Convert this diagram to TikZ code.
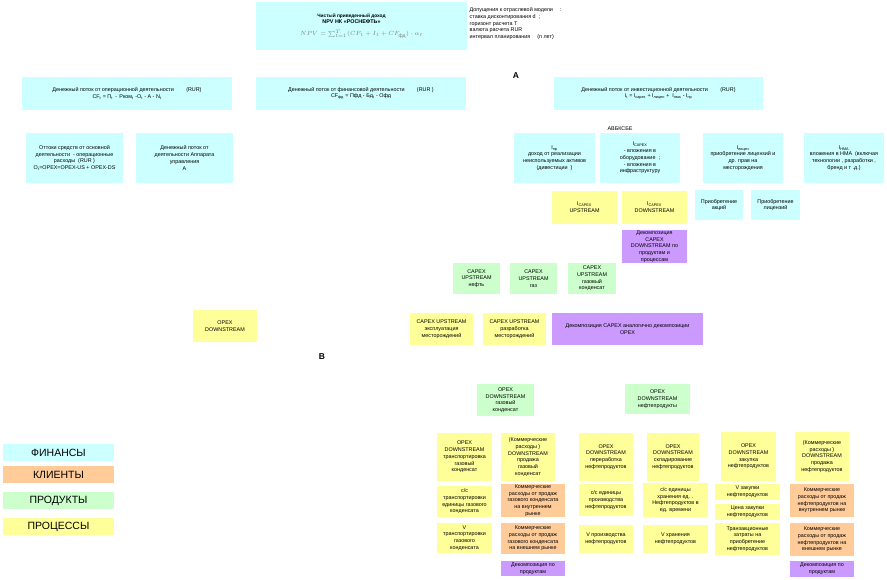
\documentclass[tikz,border=0pt]{standalone}
\usepackage{amsmath}
\usepackage{fontspec}
\setmainfont{Liberation Sans}
\usetikzlibrary{positioning}
\definecolor{finc}{HTML}{CCFFFF}
\definecolor{clic}{HTML}{FFCC99}
\definecolor{prodc}{HTML}{CCFFCC}
\definecolor{procc}{HTML}{FFFF99}
\definecolor{decc}{HTML}{CC99FF}

\begin{document}
\begin{tikzpicture}[x=1pt,y=-1pt,
  box/.style={align=center,inner sep=0.5pt,font=\fontsize{5.4}{6.7}\selectfont},
  fin/.style={box,fill=finc},
  cli/.style={box,fill=clic},
  prod/.style={box,fill=prodc},
  proc/.style={box,fill=procc},
  dec/.style={box,fill=decc},
  leg/.style={font=\fontsize{10.5}{11}\selectfont,minimum width=111,minimum height=17,inner sep=0pt},
  letter/.style={font=\bfseries\fontsize{8.5}{9}\selectfont}]
\useasboundingbox (0,0) rectangle (887,579);
% top
\node[fin,minimum width=211,minimum height=48] (npv) at (361.5,26) {\fontsize{4.8}{6.4}\selectfont\textbf{Чистый приведенный доход}\hspace{20pt}\mbox{}\\\textbf{NPV НК «РОСНЕФТЬ»}\hspace{20pt}\mbox{}\\[5pt]{\fontsize{6}{7}\selectfont\color{gray}$NPV=\sum_{t=1}^{T}(CF_t+I_t+CF_{\text{фд}})\cdot\alpha_t$}};
\node[box,anchor=north west,align=left] (dop) at (469,7) {Допущения к отраслевой модели \quad :\\ставка дисконтирования d \ ;\\горизонт расчета T\\валюта расчета RUR\\интервал планирования \quad (n лет)};
\node[letter] (la) at (516,76) {A};
\node[letter] (lb) at (322,357) {B};
% cash flows
\node[fin,minimum width=210,minimum height=33] (opcf) at (127,93.5) {Денежный поток от операционной деятельности \qquad (RUR)\\CF\textsubscript{t} = П\textsubscript{t} \,- \,Рком\textsubscript{t} -O\textsubscript{t} - A - N\textsubscript{t}};
\node[fin,minimum width=210,minimum height=33] (fincf) at (361,93.5) {Денежный поток от финансовой деятельности \qquad (RUR )\\CF\textsubscript{фд} = Пфд - Бд\textsubscript{t} - Офд};
\node[fin,minimum width=209,minimum height=33] (invcf) at (658.5,93.5) {Денежный поток от инвестиционной деятельности \qquad (RUR)\\I\textsubscript{t} = I\textsubscript{capex} + I\textsubscript{лицен} + \ I\textsubscript{нма} - I\textsubscript{пр}};
% level 3
\node[fin,minimum width=97,minimum height=50] (ottok) at (74.5,158) {Оттоки средств от основной\\деятельности \ - операционные\\расходы \ (RUR )\\O\textsubscript{t}=OPEX=OPEX-US + OPEX-DS};
\node[fin,minimum width=97,minimum height=50] (appar) at (184.5,158) {Денежный поток от\\деятельности Аппарата\\управления\\A};
\node[fin,minimum width=81,minimum height=50] (ipr) at (554.5,158) {I\textsubscript{пр}\\доход от реализации\\неиспользуемых активов\\(дивестиции \ )};
\node[fin,minimum width=80,minimum height=50] (icapex) at (640,158) {I\textsubscript{CAPEX}\\- вложения в\\оборудование \ ;\\- вложения в\\инфраструктуру};
\node[box,fill=white,inner sep=1pt] (abk) at (620,129) {АВБКСБЕ};
\node[fin,minimum width=80,minimum height=50] (ilic) at (743,158) {I\textsubscript{лицен}\\приобретение лицензий и\\др. прав на\\месторождения};
\node[fin,minimum width=80,minimum height=50] (inma) at (844,158) {I\textsubscript{НМА}\\вложения в НМА \ (включая\\технологии , разработки ,\\бренд и т .д.)};
% level 4
\node[proc,minimum width=65,minimum height=33] (capup) at (584.5,207.5) {I\textsubscript{CAPEX}\\UPSTREAM};
\node[proc,minimum width=65,minimum height=33] (capdown) at (654.5,207.5) {I\textsubscript{CAPEX}\\DOWNSTREAM};
\node[fin,minimum width=48,minimum height=30] (akc) at (719,205) {Приобретение\\акций};
\node[fin,minimum width=49,minimum height=30] (licz) at (775.5,205) {Приобретение\\лицензий};
\node[dec,minimum width=65,minimum height=33] (decdown) at (654.5,246.5) {Декомпозиция\\CAPEX\\DOWNSTREAM по\\продуктам и\\процессам};
% CAPEX upstream
\node[prod,minimum width=47,minimum height=31] (upneft) at (476.5,278.5) {CAPEX\\UPSTREAM\\нефть};
\node[prod,minimum width=47,minimum height=31] (upgaz) at (533.5,278.5) {CAPEX\\UPSTREAM\\газ};
\node[prod,minimum width=48,minimum height=31] (upkond) at (592,278.5) {CAPEX\\UPSTREAM\\газовый\\конденсат};
\node[proc,minimum width=64,minimum height=32] (opdown) at (225,326) {OPEX\\DOWNSTREAM};
\node[proc,minimum width=63,minimum height=32] (upexpl) at (441.5,329) {CAPEX UPSTREAM\\эксплуатация\\месторождений};
\node[proc,minimum width=63,minimum height=32] (uprazr) at (514.5,329) {CAPEX UPSTREAM\\разработка\\месторождений};
\node[dec,minimum width=151,minimum height=32] (deccapex) at (627.5,329) {Декомпозиция CAPEX аналогично декомпозиции\\OPEX};
% OPEX downstream
\node[prod,minimum width=57,minimum height=32] (opkond) at (505.5,400) {OPEX\\DOWNSTREAM\\газовый\\конденсат};
\node[prod,minimum width=65,minimum height=30] (opnp) at (657.5,399) {OPEX\\DOWNSTREAM\\нефтепродукты};
% gas condensate
\node[proc,minimum width=55,minimum height=48] (trans) at (464.5,457) {OPEX\\DOWNSTREAM\\транспортировка\\газовый\\конденсат};
\node[proc,minimum width=55,minimum height=31] (sstrans) at (464.5,501.5) {с/с\\транспортировки\\единицы газового\\конденсата};
\node[proc,minimum width=55,minimum height=30] (vtrans) at (464.5,538) {V\\транспортировки\\газового\\конденсата};
\node[proc,minimum width=54,minimum height=48] (sellk) at (528,457) {(Коммерческие\\расходы )\\DOWNSTREAM\\продажа\\газовый\\конденсат};
\node[cli,minimum width=64,minimum height=33] (kvnutr) at (533,500.5) {Коммерческие\\расходы от продаж\\газового конденсата\\на внутреннем\\рынке};
\node[cli,minimum width=64,minimum height=31] (kvnesh) at (533,538.5) {Коммерческие\\расходы от продаж\\газового конденсата\\на внешнем рынке};
\node[dec,minimum width=64,minimum height=15] (deck) at (533,568.5) {Декомпозиция по\\продуктам};
% oil products
\node[proc,minimum width=54,minimum height=48] (pererab) at (606,457) {OPEX\\DOWNSTREAM\\переработка\\нефтепродуктов};
\node[proc,minimum width=54,minimum height=32] (sspr) at (606,500) {с/с единицы\\производства\\нефтепродуктов};
\node[proc,minimum width=54,minimum height=28] (vpr) at (606,539) {V производства\\нефтепродуктов};
\node[proc,minimum width=52,minimum height=48] (sklad) at (673,457) {OPEX\\DOWNSTREAM\\складирование\\нефтепродуктов};
\node[proc,minimum width=65,minimum height=34] (sshr) at (675.5,500) {с/с единицы\\хранения ед. .\\Нефтепродуктов в\\ед. времени};
\node[proc,minimum width=65,minimum height=28] (vhr) at (675.5,539) {V хранения\\нефтепродуктов};
\node[proc,minimum width=55,minimum height=49] (zakup) at (748.5,456.5) {OPEX\\DOWNSTREAM\\закупка\\нефтепродуктов};
\node[proc,minimum width=65,minimum height=16] (vzak) at (747.5,492) {V закупки\\нефтепродуктов};
\node[proc,minimum width=65,minimum height=16] (czak) at (747.5,512) {Цена закупки\\нефтепродуктов};
\node[proc,minimum width=65,minimum height=32] (tranz) at (747.5,539) {Транзакционные\\затраты на\\приобретение\\нефтепродуктов};
\node[proc,minimum width=54,minimum height=49] (sellnp) at (822,456.5) {(Коммерческие\\расходы )\\DOWNSTREAM\\продажа\\нефтепродуктов};
\node[cli,minimum width=64,minimum height=33] (npvnutr) at (822,500.5) {Коммерческие\\расходы от продаж\\нефтепродуктов на\\внутреннем рынке};
\node[cli,minimum width=64,minimum height=33] (npvnesh) at (822,539.5) {Коммерческие\\расходы от продаж\\нефтепродуктов на\\внешнем рынке};
\node[dec,minimum width=64,minimum height=16] (decnp) at (822,569) {Декомпозиция по\\продуктам};
% legend
\node[leg,fill=finc] (lfin) at (58.5,452.5) {ФИНАНСЫ};
\node[leg,fill=clic] (lcli) at (58.5,474.5) {КЛИЕНТЫ};
\node[leg,fill=prodc] (lprod) at (58.5,500.5) {ПРОДУКТЫ};
\node[leg,fill=procc] (lproc) at (58.5,526.5) {ПРОЦЕССЫ};
\end{tikzpicture}
\end{document}
